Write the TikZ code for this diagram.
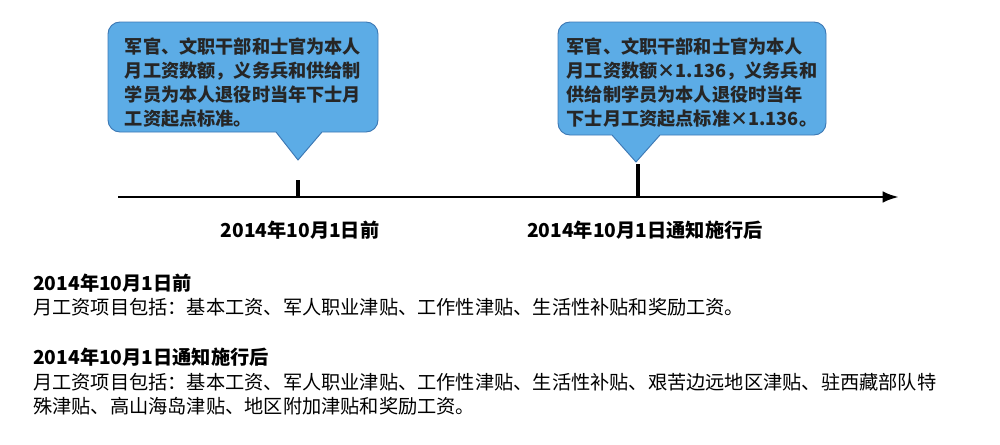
\documentclass[tikz,border=0pt]{standalone}
\usepackage{fontspec}
\usetikzlibrary{arrows.meta}
\setmainfont{Noto Sans CJK SC}
\begin{document}
\begin{tikzpicture}[x=0.03cm,y=-0.03cm,
  callout/.style={fill=calfill,draw=calline,line width=0.8pt},
  ctext/.style={font=\fontsize{15.5}{20.5}\selectfont\bfseries,text=black!85,align=left},
  btext/.style={font=\fontsize{16.4}{19}\selectfont,anchor=west,inner sep=0pt}]
\definecolor{calfill}{RGB}{92,172,230}
\definecolor{calline}{RGB}{60,120,180}
\useasboundingbox (0,0) rectangle (1000,444);
% callout 1
\draw[callout] (120,22) -- (366,22) to[out=0,in=90] (378,34) -- (378,120) to[out=-90,in=0] (366,132) -- (322,132) -- (298,160) -- (276,132) -- (120,132) to[out=180,in=-90] (108,120) -- (108,34) to[out=90,in=180] (120,22) -- cycle;
\node[ctext] (c1) at (243,83) {军官、文职干部和士官为本人\\月工资数额，义务兵和供给制\\学员为本人退役时当年下士月\\工资起点标准。};
% callout 2
\draw[callout] (570,22) -- (814,22) to[out=0,in=90] (826,34) -- (826,123) to[out=-90,in=0] (814,135) -- (660,135) -- (636,162) -- (612,135) -- (570,135) to[out=180,in=-90] (558,123) -- (558,34) to[out=90,in=180] (570,22) -- cycle;
\node[ctext] (c2) at (692,83) {军官、文职干部和士官为本人\\月工资数额×1.136，义务兵和\\供给制学员为本人退役时当年\\下士月工资起点标准×1.136。};
% axis
\coordinate (a0) at (118,197);
\coordinate (a1) at (899,197);
\draw[line width=2.4pt,-{Latex[length=14pt,width=10pt]}] (a0) -- (a1);
\coordinate (t1a) at (298,180); \coordinate (t1b) at (298,197);
\coordinate (t2a) at (638,164); \coordinate (t2b) at (638,197);
\draw[line width=3.5pt] (t1a) -- (t1b);
\draw[line width=3.5pt] (t2a) -- (t2b);
\node[font=\fontsize{16.4}{19}\selectfont\bfseries] (l1) at (300,230) {2014年10月1日前};
\node[font=\fontsize{16.4}{19}\selectfont\bfseries] (l2) at (645,230) {2014年10月1日通知施行后};
% bottom text
\node[btext,font=\fontsize{16.4}{19}\selectfont\bfseries] (b1) at (33,283) {2014年10月1日前};
\node[btext] (b2) at (33,307) {月工资项目包括：基本工资、军人职业津贴、工作性津贴、生活性补贴和奖励工资。};
\node[btext,font=\fontsize{16.4}{19}\selectfont\bfseries] (b3) at (33,357) {2014年10月1日通知施行后};
\node[btext] (b4) at (33,382) {月工资项目包括：基本工资、军人职业津贴、工作性津贴、生活性补贴、艰苦边远地区津贴、驻西藏部队特};
\node[btext] (b5) at (33,406) {殊津贴、高山海岛津贴、地区附加津贴和奖励工资。};
\end{tikzpicture}
\end{document}
